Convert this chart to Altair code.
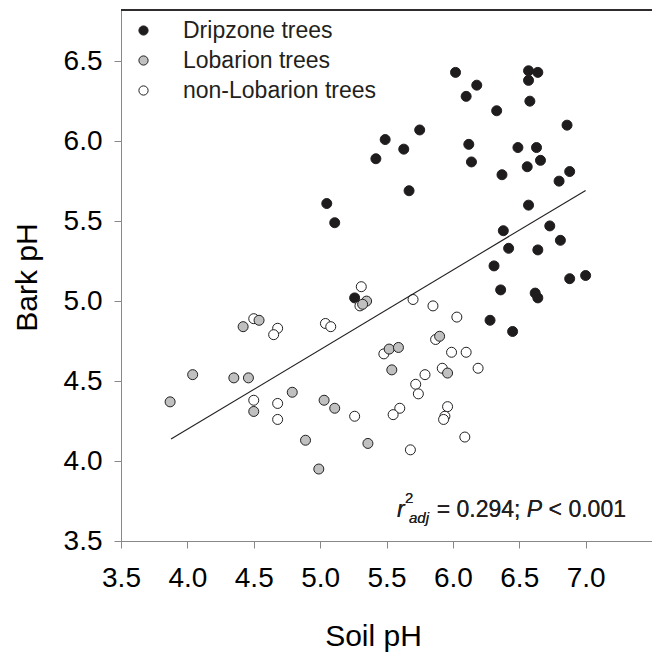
import altair as alt
import pandas as pd

# ---- data ----
drip_x = [6.02, 6.18, 6.10, 6.57, 6.64, 6.57, 6.58, 6.33, 6.86, 5.75, 5.49, 5.63, 5.42, 6.12, 6.14,
          6.49, 6.63, 6.66, 6.56, 6.37, 6.88, 6.80, 5.67, 6.57, 5.05, 5.11, 6.38, 6.73, 6.81, 6.42,
          6.64, 6.31, 6.36, 6.62, 6.64, 6.88, 7.00, 6.28, 6.45, 5.26]
drip_y = [6.43, 6.35, 6.28, 6.44, 6.43, 6.38, 6.25, 6.19, 6.10, 6.07, 6.01, 5.95, 5.89, 5.98, 5.87,
          5.96, 5.96, 5.88, 5.84, 5.79, 5.81, 5.75, 5.69, 5.60, 5.61, 5.49, 5.44, 5.47, 5.38, 5.33,
          5.32, 5.22, 5.07, 5.05, 5.02, 5.14, 5.16, 4.88, 4.81, 5.02]

lob_x = [3.87, 4.04, 4.42, 4.54, 4.35, 4.46, 4.50, 4.79, 4.89, 4.99, 5.03, 5.11, 5.36, 5.35, 5.32,
         5.52, 5.59, 5.54, 5.90, 5.96]
lob_y = [4.37, 4.54, 4.84, 4.88, 4.52, 4.52, 4.31, 4.43, 4.13, 3.95, 4.38, 4.33, 4.11, 5.00, 4.98,
         4.70, 4.71, 4.57, 4.78, 4.55]

non_x = [4.50, 4.68, 4.65, 4.50, 4.68, 4.68, 5.26, 5.04, 5.08, 5.31, 5.30, 5.70, 5.85, 6.03, 5.48,
         5.87, 5.99, 6.10, 5.92, 6.19, 5.79, 5.72, 5.74, 5.60, 5.55, 5.96, 5.94, 5.93, 6.09, 5.68]
non_y = [4.89, 4.83, 4.79, 4.38, 4.36, 4.26, 4.28, 4.86, 4.84, 5.09, 4.97, 5.01, 4.97, 4.90, 4.67,
         4.76, 4.68, 4.68, 4.58, 4.58, 4.54, 4.48, 4.42, 4.33, 4.29, 4.34, 4.28, 4.26, 4.15, 4.07]

groups = ["Dripzone trees", "Lobarion trees", "non-Lobarion trees"]
group_fill = ["#1f1c1d", "#c0c0c0", "#ffffff"]

fit_x = [3.877, 7.0]
fit_y = [4.1375, 5.692]

x_ticks = [3.5, 4.0, 4.5, 5.0, 5.5, 6.0, 6.5, 7.0]
y_ticks = [3.5, 4.0, 4.5, 5.0, 5.5, 6.0, 6.5]

# ---- tables ----
pts = pd.concat([
    pd.DataFrame({"soil": drip_x, "bark": drip_y, "group": groups[0]}),
    pd.DataFrame({"soil": non_x, "bark": non_y, "group": groups[2]}),
    pd.DataFrame({"soil": lob_x, "bark": lob_y, "group": groups[1]}),
], ignore_index=True)
pts["ord"] = range(len(pts))
fit = pd.DataFrame({"soil": fit_x, "bark": fit_y})

FONT = "Liberation Sans"
INK = "#231f20"

xscale = alt.Scale(domain=[3.5, 7.5], nice=False, zero=False)
yscale = alt.Scale(domain=[3.5, 6.82], nice=False, zero=False)

xaxis = alt.Axis(values=x_ticks, format=".1f", title="Soil pH", grid=False,
                 labelFontSize=28, labelPadding=16, tickSize=7,
                 labelFlush=False, labelOverlap=False, labelBound=False,
                 titleFontSize=30, titleFontWeight="normal", titleX=252, titleY=104,
                 titleBaseline="alphabetic", titleAlign="center")
yaxis = alt.Axis(values=y_ticks, format=".1f", title="Bark pH", grid=False,
                 labelFontSize=28, labelPadding=12, tickSize=7,
                 labelFlush=False, labelOverlap=False, labelBound=False,
                 titleFontSize=30, titleFontWeight="normal", titleX=-85, titleY=267,
                 titleBaseline="alphabetic", titleAlign="center", titleAngle=270)

points = alt.Chart(pts).mark_point(shape="circle", filled=True, size=100, stroke=INK,
                                   strokeWidth=1, opacity=1).encode(
    x=alt.X("soil:Q", scale=xscale, axis=xaxis),
    y=alt.Y("bark:Q", scale=yscale, axis=yaxis),
    fill=alt.Fill("group:N", scale=alt.Scale(domain=groups, range=group_fill),
                  legend=alt.Legend(title=None, orient="none", legendX=11, legendY=9,
                                    symbolSize=85, symbolStrokeColor=INK, symbolStrokeWidth=1,
                                    symbolType="circle", labelFontSize=23, labelOffset=28,
                                    labelLimit=400, rowPadding=6, padding=0,
                                    labelFont=FONT, labelColor=INK)),
    order=alt.Order("ord:Q"),
)

line = alt.Chart(fit).mark_line(color=INK, strokeWidth=1.1).encode(
    x=alt.X("soil:Q", scale=xscale),
    y=alt.Y("bark:Q", scale=yscale),
)

top_border = alt.Chart(fit).mark_rule(color=INK, strokeWidth=1.3).encode(
    x=alt.value(0), x2=alt.value(531), y=alt.value(0)
)

def txt(text, x, y, size, style="normal", align="left"):
    return alt.Chart(fit).mark_text(text=text, font=FONT, fontSize=size, fontStyle=style,
                                    align=align, baseline="alphabetic", color=INK).encode(
        x=alt.value(x), y=alt.value(y))

ann = [
    txt("r", 276, 507, 23, "italic"),
    txt("2", 284, 493, 15),
    txt("adj", 288, 513, 15, "italic"),
    txt("= 0.294;", 399.5, 507, 23, "normal", "right"),
    txt("P", 421, 507, 23, "italic", "right"),
    txt("< 0.001", 505, 507, 23, "normal", "right"),
]

chart = alt.layer(points, line, top_border, *ann).properties(
    width=531, height=531,
    padding={"left": 121, "top": 10, "right": 0, "bottom": 112},
    autosize=alt.AutoSizeParams(type="none"),
).configure_view(stroke=None).configure_axis(
    domainColor=INK, domainWidth=1.3, tickColor=INK, tickWidth=1.3,
    labelColor=INK, titleColor=INK, labelFont=FONT, titleFont=FONT,
).configure(background="white")

chart.save("out.html", embed_options={"renderer": "svg", "actions": False})
